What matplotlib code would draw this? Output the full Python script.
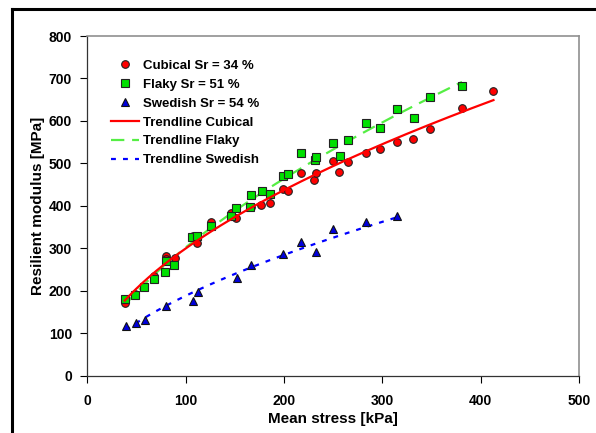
import numpy as np
import matplotlib
matplotlib.use("Agg")
import matplotlib.pyplot as plt
from matplotlib.lines import Line2D

plt.rcParams['font.family'] = ['Liberation Sans', 'DejaVu Sans']
plt.rcParams['font.weight'] = 'bold'

# Cubical aggregate, Sr = 34 %
cub_x = [38, 48, 68, 80, 80, 89, 107, 111, 126, 146, 151, 166, 177, 186, 199, 204,
         217, 230, 232, 250, 256, 265, 283, 298, 315, 331, 348, 381, 413]
cub_y = [172, 192, 234, 282, 274, 277, 330, 312, 363, 383, 371, 398, 402, 406, 439, 434,
         477, 461, 477, 506, 480, 504, 524, 533, 551, 558, 580, 631, 671]

# Flaky aggregate, Sr = 51 %
fla_x = [38, 48, 58, 68, 79, 80, 88, 106, 111, 126, 146, 151, 165, 166, 178, 186, 199, 204,
         217, 231, 233, 250, 257, 265, 283, 298, 315, 332, 348, 381]
fla_y = [180, 190, 210, 227, 244, 271, 261, 326, 329, 353, 375, 395, 398, 426, 434, 428, 471, 475,
         524, 508, 514, 549, 518, 555, 594, 584, 628, 606, 656, 682]

# Swedish aggregate, Sr = 54 %
swe_x = [39, 49, 59, 80, 107, 112, 152, 166, 199, 217, 232, 250, 283, 315]
swe_y = [118, 125, 132, 163, 176, 196, 229, 261, 286, 316, 291, 345, 363, 377]

x_ticks = [0, 100, 200, 300, 400, 500]
y_ticks = [0, 100, 200, 300, 400, 500, 600, 700, 800]


def power_trend(x, y):
    """Least-squares power-law fit y = a * x**b (fitted in log space)."""
    x = np.asarray(x, float)
    y = np.asarray(y, float)
    b, loga = np.polyfit(np.log(x), np.log(y), 1)
    xs = np.linspace(x.min(), x.max(), 200)
    return xs, np.exp(loga) * xs ** b


W, H = 596, 433
fig = plt.figure(figsize=(W / 100, H / 100), dpi=100)
ax = fig.add_axes([87.4 / W, 1 - 375.7 / H, 491.6 / W, 339.7 / H])

red = '#FF0000'
green_line = '#55EE44'
blue = '#0000FF'

ax.plot(cub_x, cub_y, 'o', ms=5.5, mfc='#FF0000', mec='#222222', mew=0.8,
        label='Cubical Sr = 34 %', zorder=3)
ax.plot(fla_x, fla_y, 's', ms=5.5, mfc='#00E000', mec='#222222', mew=0.8,
        label='Flaky Sr = 51 %', zorder=3)
ax.plot(swe_x, swe_y, '^', ms=6.0, mfc='#0000DD', mec='#111111', mew=0.8,
        label='Swedish Sr = 54 %', zorder=3)

xs, ys = power_trend(cub_x, cub_y)
ax.plot(xs, ys, '-', color=red, lw=1.6, label='Trendline Cubical', zorder=4)
xs, ys = power_trend(fla_x, fla_y)
ax.plot(xs, ys, color=green_line, lw=1.6, dashes=(6, 3.5), label='Trendline Flaky', zorder=2)
xs, ys = power_trend(swe_x, swe_y)
ax.plot(xs, ys, color=blue, lw=1.6, dashes=(2.2, 3.2), label='Trendline Swedish', zorder=2)

ax.set_xlim(0, 500)
ax.set_ylim(0, 800)
ax.set_xticks(x_ticks)
ax.set_yticks(y_ticks)
ax.tick_params(axis='both', direction='out', length=5, width=0.8, labelsize=10,
               colors='black')
ax.tick_params(axis='x', pad=8)
ax.tick_params(axis='y', pad=6)
for lab in ax.get_xticklabels() + ax.get_yticklabels():
    lab.set_fontweight('bold')

for side in ('left', 'bottom'):
    ax.spines[side].set_color('#333333')
    ax.spines[side].set_linewidth(0.9)
for side in ('top', 'right'):
    ax.spines[side].set_color('#909090')
    ax.spines[side].set_linewidth(1.2)

ax.set_xlabel('Mean stress [kPa]', fontsize=11, fontweight='bold', labelpad=3)
ax.set_ylabel('Resilient modulus [MPa]', fontsize=11, fontweight='bold', labelpad=3)

leg = ax.legend(loc='upper left', bbox_to_anchor=(0.049, 0.93), frameon=False,
                fontsize=9.5, handlelength=2.1, handletextpad=0.26,
                labelspacing=0.5, borderaxespad=0, borderpad=0)
for t in leg.get_texts():
    t.set_fontweight('bold')

# outer figure frame
fig.add_artist(Line2D([12 / W, 12 / W], [0, 1 - 9 / H], transform=fig.transFigure,
                      color='black', lw=2.2))
fig.add_artist(Line2D([12 / W, 1], [1 - 9 / H, 1 - 9 / H], transform=fig.transFigure,
                      color='black', lw=2.2))

fig.savefig('out.png', dpi=100)
